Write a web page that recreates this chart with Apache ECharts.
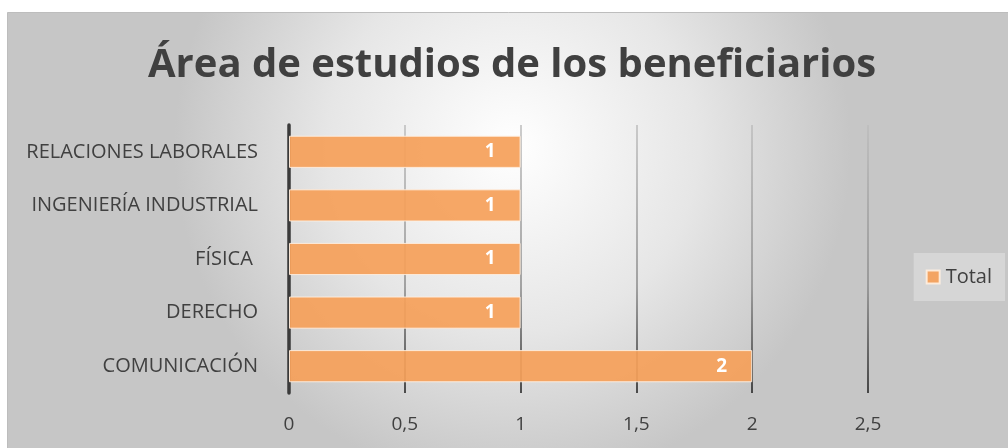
<!DOCTYPE html>
<html>
<head>
<meta charset="utf-8">
<script src="https://cdn.jsdelivr.net/npm/echarts@6/dist/echarts.min.js"></script>
<style>
  html, body { margin: 0; padding: 0; background: #ffffff; }
  #chart { width: 1008px; height: 448px; }
</style>
</head>
<body>
<div id="chart"></div>
<script>
// Áreas de estudio (orden de abajo hacia arriba en el eje vertical)
const categories = ['COMUNICACIÓN', 'DERECHO', 'FÍSICA ', 'INGENIERÍA INDUSTRIAL', 'RELACIONES LABORALES'];
const totals = [2, 1, 1, 1, 1];
const seriesName = 'Total';
const titleText = 'Área de estudios de los beneficiarios';

const FONT = '"Open Sans", "Noto Sans", sans-serif';
const TEXT = '#404040';

const chart = echarts.init(document.getElementById('chart'), null, { renderer: 'canvas' });

chart.setOption({
  animation: false,
  graphic: [{
    type: 'rect',
    z: -10,
    silent: true,
    shape: { x: 7.5, y: 12.5, width: 1010, height: 450 },
    style: {
      fill: new echarts.graphic.RadialGradient(0.5, 0.3, 0.75, [
        { offset: 0, color: '#ffffff' },
        { offset: 0.55, color: '#e6e6e6' },
        { offset: 1, color: '#c6c6c6' }
      ]),
      stroke: '#bdbdbd',
      lineWidth: 1
    }
  }],
  title: {
    text: titleText,
    left: 148,
    top: 46,
    padding: 0,
    textStyle: { fontFamily: FONT, fontWeight: 'bold', fontSize: 40, color: TEXT }
  },
  legend: {
    data: [seriesName],
    orient: 'vertical',
    right: 3,
    top: 253,
    itemWidth: 13,
    itemHeight: 13,
    itemGap: 0,
    padding: [14, 13, 14, 12],
    backgroundColor: 'rgba(225,225,225,0.6)',
    icon: 'rect',
    textStyle: { fontFamily: FONT, fontSize: 20, color: TEXT, padding: [0, 0, 0, 1] }
  },
  grid: { left: 289, right: 140, top: 125, bottom: 55, containLabel: false },
  xAxis: {
    type: 'value',
    min: 0,
    max: 2.5,
    interval: 0.5,
    axisLine: { show: false },
    axisTick: { show: false },
    axisLabel: {
      fontFamily: FONT, fontSize: 19, color: TEXT, margin: 22,
      formatter: v => String(v).replace('.', ',')
    },
    splitLine: {
      show: true,
      lineStyle: {
        width: 1.5,
        color: new echarts.graphic.LinearGradient(0, 0, 0, 1, [
          { offset: 0, color: '#bdbdbd' },
          { offset: 0.6, color: '#8a8a8a' },
          { offset: 1, color: '#1a1a1a' }
        ])
      }
    }
  },
  yAxis: {
    type: 'category',
    data: categories,
    axisLine: { show: true, lineStyle: { color: '#3a3a3a', width: 3.5 } },
    axisTick: { show: false },
    axisLabel: { fontFamily: FONT, fontSize: 20, color: TEXT, margin: 31 }
  },
  series: [{
    name: seriesName,
    type: 'bar',
    data: totals,
    barCategoryGap: '40%',
    itemStyle: { color: 'rgba(245,160,90,0.93)', borderColor: 'rgba(255,240,225,0.9)', borderWidth: 1 },
    label: {
      show: true,
      position: 'insideRight',
      distance: 25,
      fontFamily: FONT,
      fontWeight: 'bold',
      fontSize: 19,
      color: '#ffffff'
    }
  }]
});
</script>
</body>
</html>
